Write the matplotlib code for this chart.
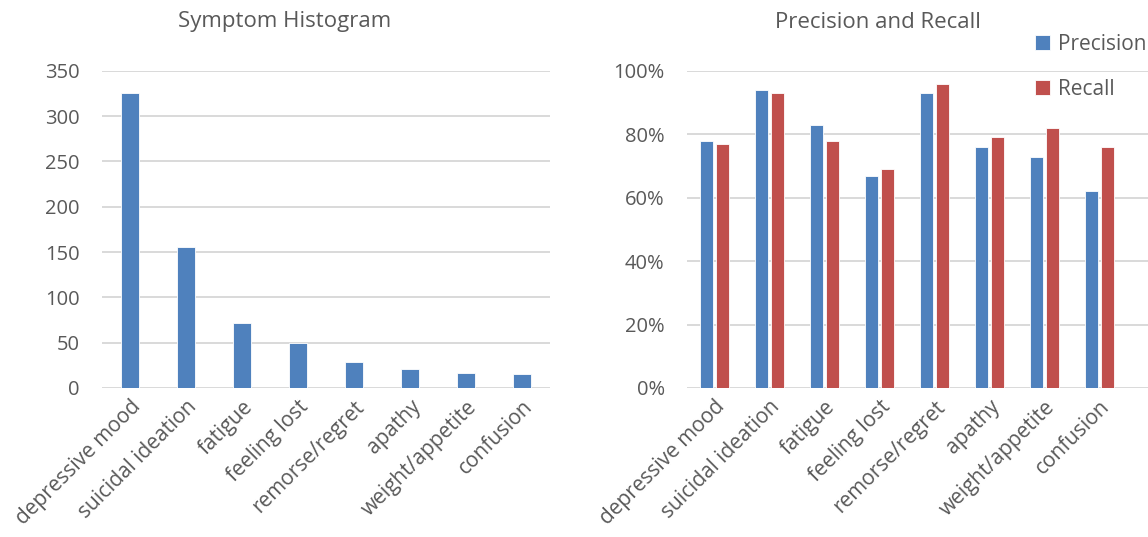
import numpy as np
import matplotlib
matplotlib.use("Agg")
import matplotlib.pyplot as plt

plt.rcParams.update({"font.family": ["Open Sans", "DejaVu Sans"], "font.size": 14})

BLUE = "#4F81BD"
RED = "#C0504D"
GREY = "#595959"
GRID = "#D9D9D9"

SYMPTOMS = ["depressive mood", "suicidal ideation", "fatigue", "feeling lost",
            "remorse/regret", "apathy", "weight/appetite", "confusion"]
COUNTS = [326, 156, 72, 50, 29, 21, 16, 15]
PRECISION = [0.78, 0.94, 0.83, 0.67, 0.93, 0.76, 0.73, 0.62]
RECALL = [0.77, 0.93, 0.78, 0.69, 0.96, 0.79, 0.82, 0.76]


def style(ax, xmax):
    for s in ax.spines.values():
        s.set_visible(False)
    ax.yaxis.grid(True, color=GRID, lw=1.4)
    ax.set_axisbelow(True)
    ax.tick_params(length=0, colors=GREY, labelsize=14.5)
    ax.tick_params(axis="y", pad=16)
    ax.tick_params(axis="x", pad=6)
    ax.set_xticks(np.arange(len(SYMPTOMS)))
    ax.set_xticklabels(SYMPTOMS, rotation=45, ha="right",
                       rotation_mode="anchor", color=GREY, fontsize=15)
    ax.set_xlim(-0.5, xmax)


fig = plt.figure(figsize=(11.48, 5.37), dpi=100)
x = np.arange(len(SYMPTOMS))

ax1 = fig.add_axes([0.0889, 0.2775, 0.390, 0.5905])
ax1.bar(x, COUNTS, width=0.32, color=BLUE, edgecolor="white", lw=0.6)
ax1.set_ylim(0, 350)
ax1.set_yticks(np.arange(0, 351, 50))
style(ax1, 7.5)
fig.text(285 / 1148, 1 - 22 / 537, "Symptom Histogram", color=GREY,
         fontsize=16, ha="center", va="center")

ax2 = fig.add_axes([0.5984, 0.2775, 0.4016, 0.5905])
w = 0.23
ax2.bar(x - w / 2 - 0.03, PRECISION, width=w, color=BLUE, edgecolor="white",
        lw=0.6, label="Precision")
ax2.bar(x + w / 2 + 0.03, RECALL, width=w, color=RED, edgecolor="white",
        lw=0.6, label="Recall")
ax2.set_ylim(0, 1)
ax2.set_yticks(np.arange(0, 1.01, 0.2))
ax2.set_yticklabels([f"{int(round(v * 100))}%" for v in np.arange(0, 1.01, 0.2)])
style(ax2, 7.88)
fig.text(878 / 1148, 1 - 22 / 537, "Precision and Recall", color=GREY,
         fontsize=16, ha="center", va="center")
leg = fig.legend(loc="upper left", bbox_to_anchor=(0.894, 0.952), frameon=False,
                 handlelength=0.75, handleheight=0.75, handletextpad=0.35,
                 labelspacing=1.15, fontsize=15, borderaxespad=0)
for t in leg.get_texts():
    t.set_color(GREY)

fig.savefig("out.png", dpi=100)
